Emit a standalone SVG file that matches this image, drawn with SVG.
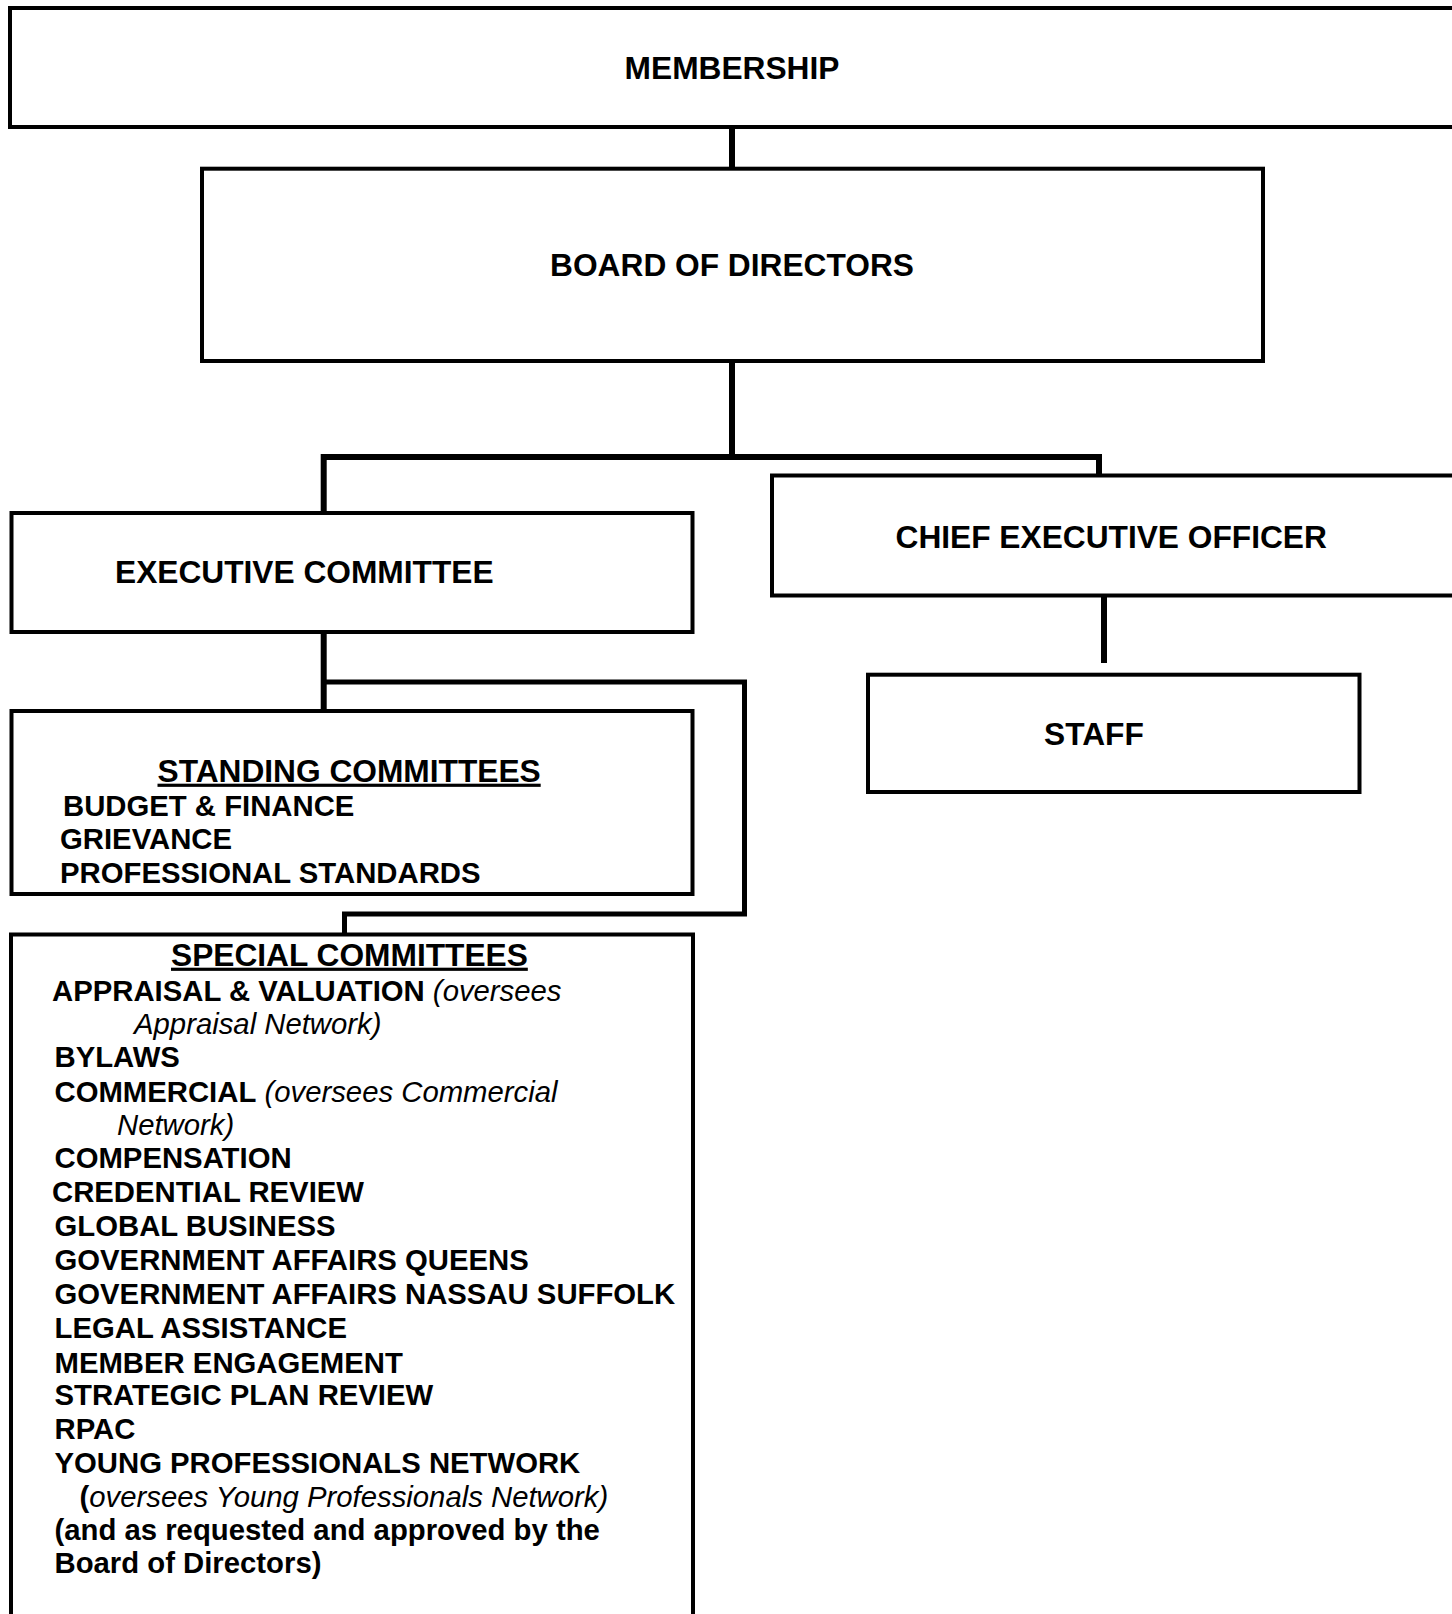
<svg xmlns="http://www.w3.org/2000/svg" width="1452" height="1614" viewBox="0 0 1452 1614">
<style>
.box{fill:#fff;stroke:#000;stroke-width:4}
.conn{fill:none;stroke:#000;stroke-linecap:butt;stroke-linejoin:miter}
text{font-family:"Liberation Sans",Arial,sans-serif;fill:#000}
.h{font-size:31.7px;font-weight:bold}
.i{font-size:29.3px;font-weight:bold}
.it{font-weight:normal;font-style:italic}
.u{text-decoration:underline}
</style>
<rect width="1452" height="1614" fill="#fff"/>
<g id="connectors">
<line class="conn" x1="732" y1="127" x2="732" y2="167" stroke-width="6"/>
<line class="conn" x1="732" y1="363" x2="732" y2="457" stroke-width="6"/>
<polyline class="conn" points="323.7,513 323.7,457 1099,457 1099,475" stroke-width="6"/>
<line class="conn" x1="323.7" y1="632" x2="323.7" y2="711" stroke-width="6"/>
<polyline class="conn" points="323.7,682 744.5,682 744.5,914 344.5,914 344.5,934" stroke-width="5"/>
<line class="conn" x1="1104" y1="595" x2="1104" y2="663" stroke-width="6"/>
</g>
<g id="membership">
<rect class="box" x="10" y="8" width="1460" height="119"/>
<text class="h" x="732" y="79" text-anchor="middle">MEMBERSHIP</text>
</g>
<g id="board">
<rect class="box" x="202" y="168.7" width="1061" height="192.3"/>
<text class="h" x="732" y="276" text-anchor="middle">BOARD OF DIRECTORS</text>
</g>
<g id="executive-committee">
<rect class="box" x="11.5" y="513" width="681" height="119"/>
<text class="h" x="115" y="583">EXECUTIVE COMMITTEE</text>
</g>
<g id="ceo">
<rect class="box" x="772" y="475.5" width="700" height="120"/>
<text class="h" x="895.5" y="547.7">CHIEF EXECUTIVE OFFICER</text>
</g>
<g id="staff">
<rect class="box" x="868" y="674.7" width="491.5" height="117.3"/>
<text class="h" x="1044" y="745">STAFF</text>
</g>
<g id="standing-committees">
<rect class="box" x="11.5" y="711" width="681" height="183"/>
<text class="h u" x="157.5" y="781.7">STANDING COMMITTEES</text>
<text class="i" x="63" y="815.7">BUDGET &amp; FINANCE</text>
<text class="i" x="60" y="849">GRIEVANCE</text>
<text class="i" x="60" y="882.7">PROFESSIONAL STANDARDS</text>
</g>
<g id="special-committees">
<rect class="box" x="11" y="934.5" width="682" height="720"/>
<text class="h u" x="171" y="965.7">SPECIAL COMMITTEES</text>
<text class="i" x="52" y="1000.7">APPRAISAL &amp; VALUATION<tspan class="it"> (oversees</tspan></text>
<text class="i it" x="134" y="1034">Appraisal Network)</text>
<text class="i" x="54.5" y="1066.7">BYLAWS</text>
<text class="i" x="54.5" y="1101.7">COMMERCIAL<tspan class="it"> (oversees Commercial</tspan></text>
<text class="i it" x="117" y="1135">Network)</text>
<text class="i" x="54.5" y="1168">COMPENSATION</text>
<text class="i" x="52" y="1202">CREDENTIAL REVIEW</text>
<text class="i" x="54.5" y="1236">GLOBAL BUSINESS</text>
<text class="i" x="54.5" y="1270">GOVERNMENT AFFAIRS QUEENS</text>
<text class="i" x="54.5" y="1304.3">GOVERNMENT AFFAIRS NASSAU SUFFOLK</text>
<text class="i" x="54.5" y="1338">LEGAL ASSISTANCE</text>
<text class="i" x="54.5" y="1372.7">MEMBER ENGAGEMENT</text>
<text class="i" x="54.5" y="1405">STRATEGIC PLAN REVIEW</text>
<text class="i" x="54.5" y="1439">RPAC</text>
<text class="i" x="54.5" y="1472.7">YOUNG PROFESSIONALS NETWORK</text>
<text class="i" x="79.5" y="1506.7">(<tspan class="it">oversees Young Professionals Network)</tspan></text>
<text class="i" x="54.5" y="1540">(and as requested and approved by the</text>
<text class="i" x="54.5" y="1573.3">Board of Directors)</text>
</g>
</svg>
